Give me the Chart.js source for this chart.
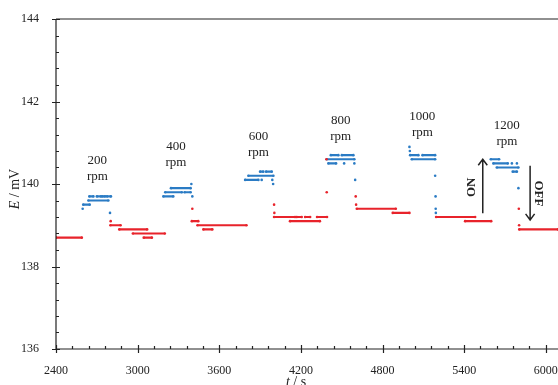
<!DOCTYPE html>
<html>
<head>
<meta charset="utf-8">
<script src="https://cdn.jsdelivr.net/npm/chart.js@4.4.1/dist/chart.umd.min.js"></script>
<style>
html, body { margin: 0; padding: 0; background: #fff; }
</style>
</head>
<body>
<canvas id="myChart" width="558" height="385"></canvas>
<script>
// potential levels read off the picture as runs: start t (s), end t (s), E (mV)
// a single dot has start == end
var redStart = [2400, 2802, 2800, 2865, 2965, 3045, 3402, 3398, 3440, 3483, 4003, 4005, 4003, 4170, 4231, 4319, 4120, 4390, 4388, 4603, 4606, 4611, 4875, 5194, 5407, 5802, 5804, 5805];
var redEnd   = [2590, 2802, 2875, 3070, 3200, 3105, 3402, 3446, 3800, 3549, 4003, 4005, 4157, 4206, 4268, 4392, 4340, 4390, 4388, 4603, 4606, 4898, 4998, 5481, 5599, 5802, 5804, 6090];
var redE     = [138.7, 139.1, 139.0, 138.9, 138.8, 138.7, 139.4, 139.1, 139.0, 138.9, 139.5, 139.3, 139.2, 139.2, 139.2, 139.2, 139.1, 139.8, 140.6, 139.7, 139.5, 139.4, 139.3, 139.2, 139.1, 139.4, 139.0, 138.9];

var blueStart = [2596, 2600, 2638, 2645, 2700, 2742, 2774, 2797,
                 3189, 3203, 3345, 3245, 3395, 3402,
                 3790, 3912, 3990, 3996, 3814, 3900, 3944,
                 4420, 4501, 4390, 4402, 4518, 4593, 4599,
                 4998, 5001, 5003, 5094, 5015, 5187, 5190, 5191, 5192,
                 5596, 5615, 5751, 5788, 5640, 5757, 5799];
var blueEnd   = [2596, 2648, 2785, 2675, 2732, 2761, 2804, 2797,
                 3262, 3325, 3390, 3390, 3395, 3402,
                 3888, 3912, 3990, 3996, 3998, 3924, 3986,
                 4476, 4586, 4593, 4459, 4518, 4593, 4599,
                 4998, 5001, 5064, 5187, 5187, 5187, 5190, 5191, 5192,
                 5657, 5721, 5751, 5788, 5799, 5788, 5799];
var blueE     = [139.4, 139.5, 139.6, 139.7, 139.7, 139.7, 139.7, 139.3,
                 139.7, 139.8, 139.8, 139.9, 140.0, 139.7,
                 140.1, 140.1, 140.1, 140.0, 140.2, 140.3, 140.3,
                 140.7, 140.7, 140.6, 140.5, 140.5, 140.5, 140.1,
                 140.9, 140.8, 140.7, 140.7, 140.6, 140.2, 139.7, 139.4, 139.3,
                 140.6, 140.5, 140.5, 140.5, 140.4, 140.3, 139.9];

var xTicks = [2400, 3000, 3600, 4200, 4800, 5400, 6000];
var yTicks = [136, 138, 140, 142, 144];

var rpmText = ["200", "400", "600", "800", "1000", "1200"];
var rpmT    = [2704, 3282, 3888, 4493, 5093, 5714];
var rpmE    = [140.57, 140.90, 141.16, 141.53, 141.63, 141.41];

function runs(st, en, ev) {
  var out = [];
  for (var i = 0; i < st.length; i++) {
    out.push({x: st[i], y: ev[i]});
    if (en[i] != st[i]) out.push({x: en[i], y: ev[i]});
    out.push({x: en[i], y: null});
  }
  return out;
}

var SERIF = "'Liberation Serif', 'DejaVu Serif', serif";

const decor = {
  id: 'decor',
  afterDraw(chart) {
    var ctx = chart.ctx, xs = chart.scales.x, ys = chart.scales.y, a = chart.chartArea;
    ctx.save();
    ctx.strokeStyle = '#222';
    ctx.lineWidth = 1.2;
    ctx.beginPath();
    ctx.moveTo(a.left, a.top); ctx.lineTo(558, a.top);
    ctx.moveTo(a.left, a.top); ctx.lineTo(a.left, a.bottom); ctx.lineTo(558, a.bottom);
    // y ticks: minor every 0.4 inside, major every 2 crossing
    for (var i = 0; i <= 20; i++) {
      var v = 136 + i * 0.4, py = Math.round(ys.getPixelForValue(v)) + 0.5;
      if (i % 5 == 0) { ctx.moveTo(a.left - 4, py); ctx.lineTo(a.left + 4, py); }
      else { ctx.moveTo(a.left, py); ctx.lineTo(a.left + 3, py); }
    }
    // x ticks: minor every 120 inside, major every 600 crossing
    for (var j = 0; j <= 30; j++) {
      var t = 2400 + j * 120, px = Math.round(xs.getPixelForValue(t)) + 0.5;
      if (j % 5 == 0) { ctx.moveTo(px, a.bottom + 4); ctx.lineTo(px, a.bottom - 4); }
      else { ctx.moveTo(px, a.bottom); ctx.lineTo(px, a.bottom - 3); }
    }
    ctx.stroke();

    ctx.fillStyle = '#222';
    ctx.textAlign = 'center';
    ctx.textBaseline = 'middle';
    ctx.font = '13px ' + SERIF;
    for (var k = 0; k < rpmText.length; k++) {
      var cx = xs.getPixelForValue(rpmT[k]), cy = ys.getPixelForValue(rpmE[k]);
      ctx.fillText(rpmText[k], cx, cy);
      ctx.fillText('rpm', cx, cy + 16);
    }

    // axis titles with italic symbol
    function mixed(parts, x, y) {
      var w = 0;
      parts.forEach(function(p) { ctx.font = p[1]; w += ctx.measureText(p[0]).width; });
      var cur = x - w / 2;
      ctx.textAlign = 'left';
      parts.forEach(function(p) { ctx.font = p[1]; ctx.fillText(p[0], cur, y); cur += ctx.measureText(p[0]).width; });
    }
    ctx.save();
    ctx.translate(15, 189);
    ctx.rotate(-Math.PI / 2);
    mixed([['E', 'italic 14px ' + SERIF], [' / mV', '14px ' + SERIF]], 0, 0);
    ctx.restore();
    mixed([['t', 'italic 14px ' + SERIF], [' / s', '14px ' + SERIF]], 296, 382);

    // ON / OFF arrows
    function arrow(t, e1, e2) {
      var x = xs.getPixelForValue(t), y1 = ys.getPixelForValue(e1), y2 = ys.getPixelForValue(e2);
      var d = y2 < y1 ? 1 : -1;
      ctx.beginPath();
      ctx.lineWidth = 1.5;
      ctx.moveTo(x, y1); ctx.lineTo(x, y2);
      ctx.moveTo(x - 4.5, y2 + d * 6); ctx.lineTo(x, y2); ctx.lineTo(x + 4.5, y2 + d * 6);
      ctx.stroke();
    }
    arrow(5537, 139.29, 140.6);
    arrow(5885, 140.44, 139.13);
    ctx.font = 'bold 13px ' + SERIF;
    ctx.textAlign = 'center';
    ctx.save();
    ctx.translate(xs.getPixelForValue(5457), ys.getPixelForValue(139.92));
    ctx.rotate(-Math.PI / 2);
    ctx.fillText('ON', 0, 0);
    ctx.restore();
    ctx.save();
    ctx.translate(xs.getPixelForValue(5946), ys.getPixelForValue(139.77));
    ctx.rotate(Math.PI / 2);
    ctx.fillText('OFF', 0, 0);
    ctx.restore();
    ctx.restore();
  }
};

const myChart = new Chart("myChart", {
  type: "scatter",
  data: {
    datasets: [
    {
      label: "off",
      data: runs(redStart, redEnd, redE),
      showLine: true,
      spanGaps: false,
      borderColor: "#e8232b",
      backgroundColor: "#e8232b",
      borderWidth: 2.2,
      pointRadius: 1.3,
      pointBorderWidth: 0
    },
    {
      label: "on",
      data: runs(blueStart, blueEnd, blueE),
      showLine: true,
      spanGaps: false,
      borderColor: "#2a7bc4",
      backgroundColor: "#2a7bc4",
      borderWidth: 2.2,
      pointRadius: 1.3,
      pointBorderWidth: 0
    }]
  },
  options: {
    animation: false,
    responsive: false,
    devicePixelRatio: 1,
    layout: {autoPadding: false, padding: {top: 19, right: 0, left: 0, bottom: 0}},
    plugins: {legend: {display: false}, tooltip: {enabled: false}},
    scales: {
      x: {
        type: "linear",
        min: 2400,
        max: 6090,
        grid: {display: false},
        border: {display: false},
        afterBuildTicks: function(s) { s.ticks = xTicks.map(function(v) { return {value: v}; }); },
        ticks: {padding: 7, maxRotation: 0, autoSkip: false,
                callback: function(v) { return String(v); },
                color: "#222", font: {family: SERIF, size: 12}},
        afterFit: function(s) { s.height = 36; s.paddingRight = 0; s.paddingLeft = 0; }
      },
      y: {
        min: 136,
        max: 144,
        grid: {display: false},
        border: {display: false},
        afterBuildTicks: function(s) { s.ticks = yTicks.map(function(v) { return {value: v}; }); },
        ticks: {padding: 9, color: "#222", callback: function(v) { return String(v); },
                font: {family: SERIF, size: 12}},
        afterFit: function(s) { s.width = 56; s.paddingTop = 0; s.paddingBottom = 0; }
      }
    }
  },
  plugins: [decor]
});
</script>
</body>
</html>
